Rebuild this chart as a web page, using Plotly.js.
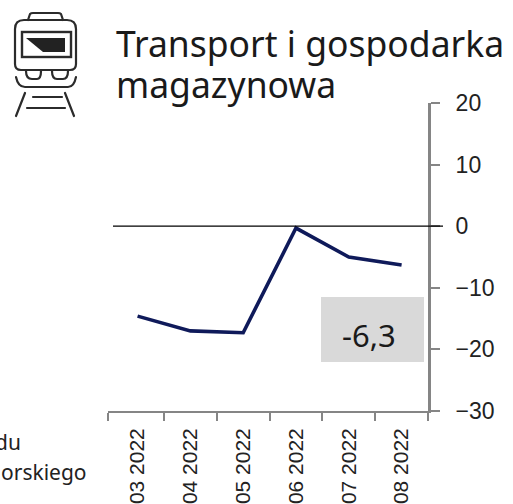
<!DOCTYPE html>
<html><head><meta charset="utf-8">
<script src="https://cdn.plot.ly/plotly-3.0.1.min.js"></script>
<style>html,body{margin:0;padding:0;background:#fff;overflow:hidden}#c{width:513px;height:504px}</style>
</head><body><div id="c"></div>
<script>
const months = ['03 2022','04 2022','05 2022','06 2022','07 2022','08 2022'];
const values = [-14.6,-17,-17.3,-0.3,-5,-6.3];
const yTicks = [-30,-20,-10,0,10,20];
const yTickText = ['−30','−20','−10','0','10','20'];
const xTickEdges = [-0.56,0.5,1.5,2.5,3.5,4.5,5.5];
const titleLines = ['Transport i gospodarka','magazynowa'];
const boxText = '-6,3';
const clipLines = ['du','orskiego'];

const W=513,H=504,L=108,R=428,T=103,B=411;
const px=x=>(x-L)/(R-L), py=y=>(B-y)/(B-T);
const axisGrey='#858585';

const iconSvg = `<svg xmlns="http://www.w3.org/2000/svg" width="90" height="125" viewBox="0 0 90 125">
<g fill="none" stroke="#2b2b2b" stroke-width="2.2" stroke-linecap="round" stroke-linejoin="round">
<path d="M28 20 L30 14 Q31 13 33 13 L58 13 Q60 13 61 14 L63 20"/>
<path d="M24 20 L67 20 Q76 20 76 29 L76 64 Q76 70 70 70 L21 70 Q15 70 15 64 L15 29 Q15 20 24 20Z"/>
<path d="M26 71 Q26 79 32 79 L37 79 Q41 79 41 71"/>
<path d="M52 71 Q52 79 57 79 L63 79 Q68 79 68 71"/>
<path d="M16 77 Q18 87 25 87 L68 87 Q74 87 76 77"/>
<path d="M25 93 L16 116"/><path d="M65 93 L74 116"/>
<path d="M33 97 L62 97"/><path d="M27 108 L65 108"/>
</g>
<rect x="22" y="32" width="49" height="25" fill="none" stroke="#2b2b2b" stroke-width="2.4"/>
<path d="M26 38 L65 38 L65 52 L43 52 Z" fill="#222"/>
</svg>`;

const data=[
 {type:'scatter',mode:'lines',x:months,y:values,line:{color:'#0f1a5a',width:3.6},hoverinfo:'skip'},
 {type:'scatter',mode:'markers',x:[0],y:[0],xaxis:'x2',marker:{opacity:0},hoverinfo:'skip'}
];

const layout={
  width:W,height:H,
  margin:{l:L,r:W-R,t:T,b:H-B,pad:0},
  paper_bgcolor:'#fff',plot_bgcolor:'#fff',showlegend:false,
  font:{family:'"Noto Sans",sans-serif',color:'#222'},
  xaxis:{type:'category',categoryorder:'array',categoryarray:months,range:[-0.56,5.5],
    showgrid:false,zeroline:false,showline:false,ticks:'',ticklabelstandoff:12,
    tickangle:-90,tickfont:{family:'"Liberation Sans",sans-serif',size:21,color:'#222'}},
  xaxis2:{overlaying:'x',anchor:'y',side:'bottom',type:'linear',range:[-0.56,5.5],tickmode:'array',tickvals:xTickEdges,
    showticklabels:false,showgrid:false,zeroline:false,showline:true,linecolor:axisGrey,linewidth:2,
    ticks:'outside',ticklen:8,tickwidth:2,tickcolor:axisGrey},
  yaxis:{side:'right',range:[-30,20],tickvals:yTicks,ticktext:yTickText,
    showgrid:false,zeroline:false,showline:true,linecolor:axisGrey,linewidth:3,
    ticks:'outside',ticklen:9,tickwidth:2,tickcolor:axisGrey,ticklabelstandoff:11,
    tickfont:{family:'"Liberation Sans",sans-serif',size:23,color:'#222'}},
  shapes:[
    {type:'rect',xref:'paper',yref:'paper',x0:px(321),x1:px(424),y0:py(362),y1:py(297),fillcolor:'#d9d9d9',line:{width:0},layer:'above'},
    {type:'line',xref:'paper',yref:'y',x0:px(113),x1:px(443),y0:0,y1:0,line:{color:'#000',width:1.2},layer:'above'}
  ],
  images:[{source:'data:image/svg+xml;utf8,'+encodeURIComponent(iconSvg),xref:'paper',yref:'paper',
    x:px(0),y:py(0),sizex:90/(R-L),sizey:125/(B-T),xanchor:'left',yanchor:'top',sizing:'stretch',layer:'above'}],
  annotations:[
    {xref:'paper',yref:'paper',x:px(115),y:py(17.5),xanchor:'left',yanchor:'top',showarrow:false,
     text:titleLines[0],font:{family:'"Noto Sans",sans-serif',size:35.5,color:'#1a1a1a'},borderpad:0},
    {xref:'paper',yref:'paper',x:px(115),y:py(59),xanchor:'left',yanchor:'top',showarrow:false,
     text:titleLines[1],font:{family:'"Noto Sans",sans-serif',size:35.5,color:'#1a1a1a'},borderpad:0},
    {xref:'paper',yref:'paper',x:px(369),y:py(335),xanchor:'center',yanchor:'middle',showarrow:false,
     text:boxText,font:{family:'"Noto Sans",sans-serif',size:31,color:'#1a1a1a'},borderpad:0},
    {xref:'paper',yref:'paper',x:px(-6),y:py(427),xanchor:'left',yanchor:'top',showarrow:false,
     text:clipLines[0],font:{family:'"Noto Sans",sans-serif',size:21,color:'#222'},borderpad:0},
    {xref:'paper',yref:'paper',x:px(0),y:py(457),xanchor:'left',yanchor:'top',showarrow:false,
     text:clipLines[1],font:{family:'"Noto Sans",sans-serif',size:21,color:'#222'},borderpad:0}
  ]
};
Plotly.newPlot('c',data,layout,{displayModeBar:false,staticPlot:true});
</script></body></html>
